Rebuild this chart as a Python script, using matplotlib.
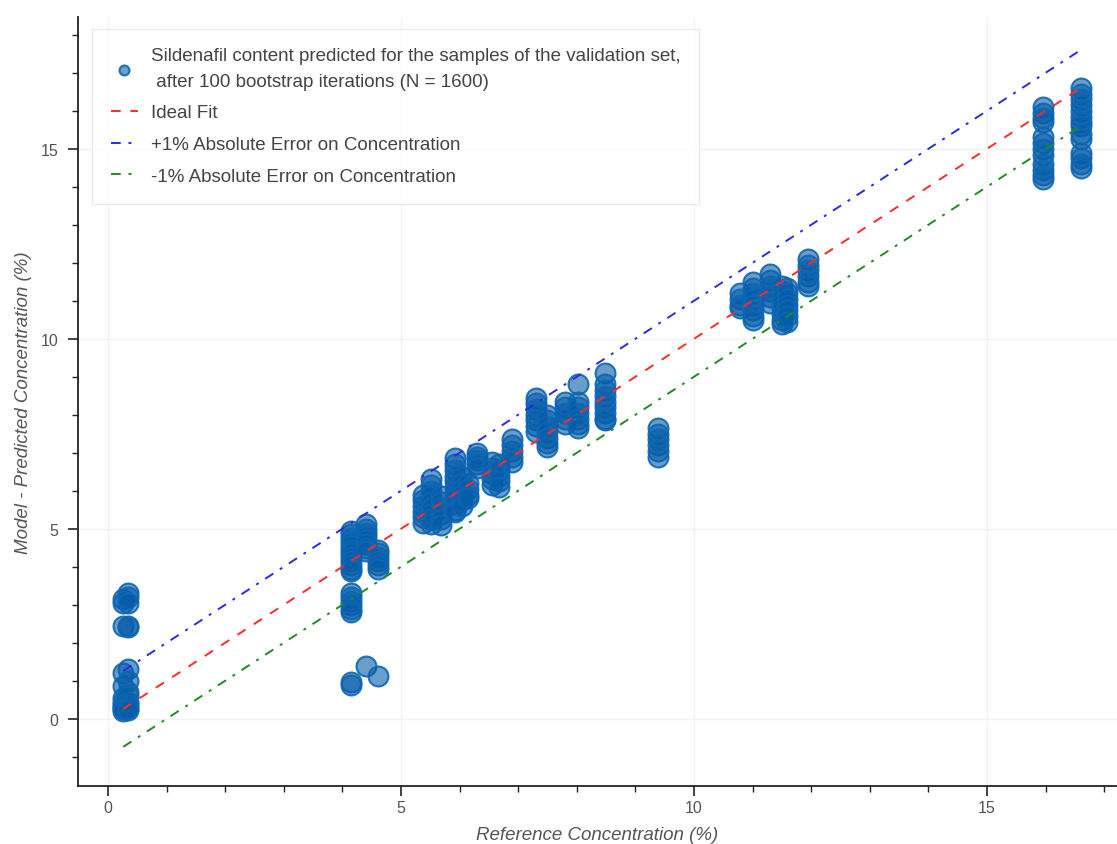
import numpy as np
import matplotlib
matplotlib.use("Agg")
import matplotlib.pyplot as plt
from matplotlib.ticker import MultipleLocator

plt.rcParams['font.family'] = ['Liberation Sans', 'DejaVu Sans']

# Reference concentrations (%) of the validation-set columns
ref_x = [0.26, 0.34, 4.14, 4.40, 4.60, 5.38, 5.52, 5.68, 5.92, 6.05, 6.15,
         6.30, 6.55, 6.68, 6.90, 7.30, 7.50, 7.80, 8.02, 8.48, 9.38,
         10.78, 11.00, 11.30, 11.50, 11.58, 11.95, 15.95, 16.60]

# Predicted concentrations (%) read for each column
pred_y = [
    [3.15, 3.05, 2.45, 1.2, 0.85, 0.55, 0.45, 0.35, 0.3, 0.25, 0.2],
    [3.32, 3.2, 3.05, 2.45, 2.42, 1.3, 1.0, 0.7, 0.6, 0.45, 0.35, 0.28, 0.22],
    [4.95, 4.85, 4.75, 4.65, 4.55, 4.45, 4.35, 4.25, 4.15, 4.05, 3.95, 3.88,
     3.3, 3.2, 3.1, 3.0, 2.9, 2.8, 0.98, 0.9],
    [5.12, 5.0, 4.9, 4.8, 4.7, 4.6, 4.5, 4.42, 1.38],
    [4.45, 4.35, 4.25, 4.15, 4.05, 3.95, 1.13],
    [5.9, 5.75, 5.6, 5.45, 5.3, 5.15],
    [6.3, 6.15, 6.0, 5.85, 5.7, 5.55, 5.4, 5.25, 5.12],
    [5.85, 5.7, 5.55, 5.4, 5.25, 5.1],
    [6.85, 6.7, 6.55, 6.4, 6.25, 6.1, 5.95, 5.8, 5.65, 5.5, 5.45],
    [6.35, 6.2, 6.05, 5.9, 5.75, 5.6],
    [6.2, 6.05, 5.9, 5.8],
    [7.0, 6.9, 6.8, 6.7, 6.6],
    [6.75, 6.6, 6.45, 6.3, 6.15],
    [6.7, 6.55, 6.4, 6.25, 6.1],
    [7.35, 7.2, 7.05, 6.9, 6.75],
    [8.45, 8.3, 8.15, 8.0, 7.85, 7.7, 7.55],
    [8.0, 7.85, 7.7, 7.55, 7.4, 7.25, 7.15],
    [8.35, 8.2, 8.05, 7.9, 7.75],
    [8.8, 8.35, 8.2, 8.05, 7.9, 7.75, 7.65],
    [9.1, 8.8, 8.65, 8.5, 8.35, 8.2, 8.05, 7.9, 7.85],
    [7.65, 7.5, 7.35, 7.2, 7.05, 6.9],
    [11.2, 11.05, 10.9, 10.8],
    [11.5, 11.35, 11.2, 11.05, 10.9, 10.75, 10.6, 10.5],
    [11.7, 11.55, 11.4, 11.25, 11.1, 10.95],
    [11.4, 11.25, 11.1, 10.95, 10.8, 10.65, 10.5, 10.4],
    [11.35, 11.2, 11.05, 10.9, 10.75, 10.6, 10.45],
    [12.1, 11.95, 11.8, 11.65, 11.5, 11.4],
    [16.1, 15.95, 15.8, 15.7, 15.3, 15.15, 15.0, 14.85, 14.6, 14.45, 14.3, 14.2],
    [16.6, 16.45, 16.3, 16.15, 16.0, 15.85, 15.7, 15.6, 15.4, 15.25, 14.9,
     14.75, 14.6, 14.5],
]

scatter_label = ("Sildenafil content predicted for the samples of the validation set,\n"
                 " after 100 bootstrap iterations (N = 1600)")
line_labels = ["Ideal Fit", "+1% Absolute Error on Concentration",
               "-1% Absolute Error on Concentration"]
x_label = "Reference Concentration (%)"
y_label = "Model - Predicted Concentration (%)"

xs = np.concatenate([[x] * len(ys) for x, ys in zip(ref_x, pred_y)])
ys = np.concatenate([np.array(v) for v in pred_y])

fig = plt.figure(figsize=(11.17, 8.45), dpi=100)
ax = fig.add_axes([78 / 1117, 58 / 845, 1039 / 1117, 769 / 845])

ax.grid(True, color='#f2f2f2', linewidth=1.0, zorder=0)
ax.set_axisbelow(True)

sc = ax.scatter(xs, ys, s=205, facecolor=(0.02, 0.36, 0.66, 0.6),
                edgecolor=(0.05, 0.40, 0.70, 0.9), linewidth=1.5, zorder=3,
                label=scatter_label)

xline = np.array([min(ref_x), max(ref_x)])
l1, = ax.plot(xline, xline, color='#ff2a2a', linestyle=(0, (5, 5)), lw=1.4,
              zorder=4, label=line_labels[0])
l2, = ax.plot(xline, xline + 1, color='#2a2ae6', linestyle=(0, (5, 4, 1.5, 4)),
              lw=1.4, zorder=4, label=line_labels[1])
l3, = ax.plot(xline, xline - 1, color='#1f8c1f', linestyle=(0, (5, 4, 1.5, 4)),
              lw=1.4, zorder=4, label=line_labels[2])

ax.set_xlim(-0.512, 17.22)
ax.set_ylim(-1.77, 18.47)
ax.xaxis.set_major_locator(MultipleLocator(5))
ax.xaxis.set_minor_locator(MultipleLocator(1))
ax.yaxis.set_major_locator(MultipleLocator(5))
ax.yaxis.set_minor_locator(MultipleLocator(1))

for s in ['top', 'right']:
    ax.spines[s].set_visible(False)
for s in ['left', 'bottom']:
    ax.spines[s].set_color('#222222')
    ax.spines[s].set_linewidth(1.3)

ax.tick_params(which='major', direction='out', length=7, width=1.2,
               color='#222222', labelsize=11.5, labelcolor='#555555')
ax.tick_params(axis='x', which='major', pad=3)
ax.tick_params(axis='y', which='major', pad=7)
ax.tick_params(which='minor', direction='out', length=4, width=1.0,
               color='#222222')

ax.set_xlabel(x_label, fontsize=13.5, style='italic', color='#555555', labelpad=8)
ax.set_ylabel(y_label, fontsize=13.5, style='italic', color='#555555', labelpad=6)

leg = ax.legend(handles=[sc, l1, l2, l3], loc='upper left',
                bbox_to_anchor=(0.0135, 0.985), borderaxespad=0,
                fontsize=13.5, frameon=True, fancybox=False,
                handlelength=1.45, handletextpad=0.7, labelspacing=0.78,
                borderpad=1.0, markerscale=0.5)
leg.get_frame().set_edgecolor('#e6e6e6')
leg.get_frame().set_linewidth(1.0)
for t in leg.get_texts():
    t.set_color('#444444')
    t.set_linespacing(1.65)

fig.savefig("out.png", dpi=100)
